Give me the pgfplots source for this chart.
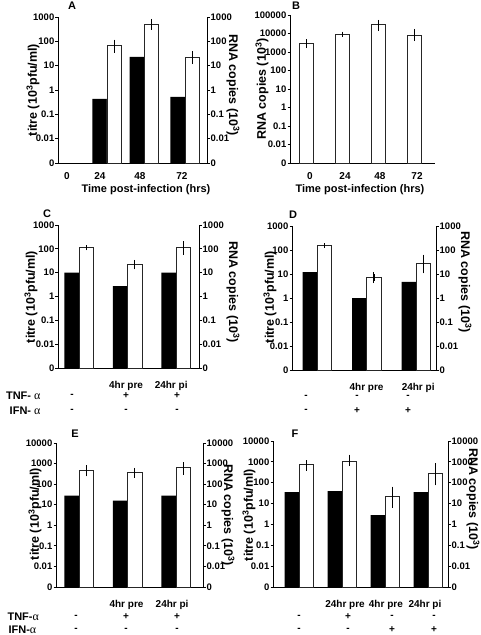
\documentclass[border=0pt]{standalone}
\usepackage{pgfplots}
\pgfplotsset{compat=1.18}
\usepackage{fontspec}
\setmainfont{Liberation Sans}
\newfontfamily\greekf{Liberation Serif}
\newcommand{\al}{{\greekf\mdseries\fontsize{12}{12}\selectfont α}}
\newcommand{\labf}{\bfseries\fontsize{11}{11}\selectfont}
\newcommand{\ylabf}{\bfseries\fontsize{12.5}{12.5}\selectfont}
\newcommand{\condf}{\bfseries\fontsize{10}{10}\selectfont}
\newcommand{\rowf}{\bfseries\fontsize{11}{11}\selectfont}
\newcommand{\letf}{\bfseries\fontsize{11}{11}\selectfont}
\pgfplotsset{
  scale only axis, clip=false,
  log origin y=infty,
  yminorticks=false,
  tick align=outside, major tick length=2.5pt,
  axis line style={line width=0.9pt},
  tick style={black, line width=0.8pt},
  tick label style={font=\bfseries\fontsize{9.5}{10}\selectfont},
  yticklabel style={inner sep=1pt},
  x tick label style={font=\condf, anchor=base, inner sep=0pt},
  xtick style={draw=none},
}
\begin{document}
\begin{tikzpicture}
\useasboundingbox (0,0) rectangle (480pt,-635pt);
% ---------------- Panel A
\begin{axis}[ymode=log, ymin=1e-3, ymax=1e3, ytick={1e-3,1e-2,1e-1,1,10,100,1000},
  yticklabels={0,0.01,0.1,1,10,100,1000},
  axis x line*=bottom, axis y line*=left,
  at={(58pt,-163pt)}, anchor=south west, width=149pt, height=146pt,
  xmin=-0.256, xmax=3.564, xtick={-0.026,0.82,1.846,2.923}, xticklabels={0,24,48,72},
  xticklabel shift=13.5pt]
\addplot[ybar, bar width=14.5pt, bar shift=0pt, fill=black, draw=none] coordinates {(0.814,0.43) (1.763,23) (2.814,0.52)};
\addplot[ybar, bar width=14.5pt, bar shift=0pt, fill=white, draw=black!85, line width=0.8pt,
  error bars/.cd, y dir=both, y explicit, error bar style={line width=1.3pt, black}, error mark options={line width=1pt, mark size=2pt, black}]
  coordinates {(1.186,66) += (0,31) -= (0,25) (2.135,500) += (0,190) -= (0,145) (3.186,22) += (0,10) -= (0,8)};
\end{axis}
\begin{axis}[ymode=log, ymin=1e-3, ymax=1e3, ytick={1e-3,1e-2,1e-1,1,10,100,1000},
  yticklabels={0,0.01,0.1,1,10,100,1000},
  axis y line*=right, axis x line=none,
  at={(58pt,-163pt)}, anchor=south west, width=149pt, height=146pt, xmin=0, xmax=1]
\end{axis}
\node[font=\letf] at (72pt,-6pt) {A};
\node[font=\ylabf, rotate=90] at (33pt,-90pt) {titre (10\textsuperscript{3}pfu/ml)};
\node[font=\ylabf, rotate=-90] at (233pt,-85pt) {RNA copies (10\textsuperscript{3})};
\node[font=\labf] at (146pt,-190pt) {Time post-infection (hrs)};
% ---------------- Panel B
\begin{axis}[ymode=log, ymin=1e-3, ymax=1e5, ytick={1e-3,1e-2,1e-1,1,10,100,1000,10000,100000},
  yticklabels={0,0.01,0.1,1,10,100,1000,10000,100000},
  axis x line*=bottom, axis y line*=left,
  at={(290pt,-163pt)}, anchor=south west, width=145pt, height=148pt,
  xmin=-0.458, xmax=3.569, xtick={0.097,1.07,2.04,3.07}, xticklabels={0,24,48,72},
  xticklabel shift=13.5pt]
\addplot[ybar, bar width=13.5pt, bar shift=0pt, fill=white, draw=black!85, line width=0.8pt,
  error bars/.cd, y dir=both, y explicit, error bar style={line width=1.3pt, black}, error mark options={line width=1pt, mark size=2pt, black}]
  coordinates {(0,3080) += (0,820) -= (0,980) (1,9400) += (0,600) -= (0,600) (2,32000) += (0,10000) -= (0,14500) (3,8300) += (0,5400) -= (0,3300)};
\end{axis}
\node[font=\letf] at (296pt,-6pt) {B};
\node[font=\ylabf, rotate=90] at (262pt,-89pt) {RNA copies (10\textsuperscript{3})};
\node[font=\labf] at (360pt,-190pt) {Time post-infection (hrs)};
% ---------------- Panel C
\begin{axis}[ymode=log, ymin=1e-3, ymax=1e3, ytick={1e-3,1e-2,1e-1,1,10,100,1000},
  yticklabels={0,0.01,0.1,1,10,100,1000},
  axis x line*=bottom, axis y line*=left,
  at={(58pt,-368pt)}, anchor=south west, width=141pt, height=143pt,
  xmin=-0.433, xmax=2.474, xtick={0.97,1.9}, xticklabels={4hr pre,24hr pi},
  xticklabel shift=17.5pt]
\addplot[ybar, bar width=14.5pt, bar shift=0pt, fill=black, draw=none] coordinates {(-0.15,10) (0.85,2.7) (1.85,10)};
\addplot[ybar, bar width=14.5pt, bar shift=0pt, fill=white, draw=black!85, line width=0.8pt,
  error bars/.cd, y dir=both, y explicit, error bar style={line width=1.3pt, black}, error mark options={line width=1pt, mark size=2pt, black}]
  coordinates {(0.15,110) += (0,5) -= (0,5) (1.15,22) += (0,6.5) -= (0,5.2) (2.15,110) += (0,58) -= (0,43)};
\end{axis}
\begin{axis}[ymode=log, ymin=1e-3, ymax=1e3, ytick={1e-3,1e-2,1e-1,1,10,100,1000},
  yticklabels={0,0.01,0.1,1,10,100,1000},
  axis y line*=right, axis x line=none,
  at={(58pt,-368pt)}, anchor=south west, width=141pt, height=143pt, xmin=0, xmax=1]
\end{axis}
\node[font=\letf] at (47pt,-214pt) {C};
\node[font=\ylabf, rotate=90] at (31pt,-297pt) {titre (10\textsuperscript{3}pfu/ml)};
\node[font=\ylabf, rotate=-90] at (233pt,-292pt) {RNA copies (10\textsuperscript{3})};
\node[font=\rowf, anchor=east] at (44pt,-396pt) {TNF- \al};
\node[font=\rowf, anchor=east] at (44pt,-411pt) {IFN- \al};
\node[font=\condf] at (72pt,-396pt) {-};
\node[font=\condf] at (126pt,-396pt) {+};
\node[font=\condf] at (177pt,-396pt) {+};
\node[font=\condf] at (72pt,-411pt) {-};
\node[font=\condf] at (126pt,-411pt) {-};
\node[font=\condf] at (177pt,-411pt) {-};
% ---------------- Panel D
\begin{axis}[ymode=log, ymin=1e-3, ymax=1e3, ytick={1e-3,1e-2,1e-1,1,10,100,1000},
  yticklabels={0,0.01,0.1,1,10,100,1000},
  axis x line*=bottom, axis y line*=left,
  at={(292pt,-370pt)}, anchor=south west, width=144pt, height=144pt,
  xmin=-0.505, xmax=2.40, xtick={1,2.04}, xticklabels={4hr pre,24hr pi},
  xticklabel shift=17.5pt]
\addplot[ybar, bar width=14.5pt, bar shift=0pt, fill=black, draw=none] coordinates {(-0.1465,12) (0.8535,1.0) (1.8535,4.7)};
\addplot[ybar, bar width=14.5pt, bar shift=0pt, fill=white, draw=black!85, line width=0.8pt,
  error bars/.cd, y dir=both, y explicit, error bar style={line width=1.3pt, black}, error mark options={line width=1pt, mark size=2pt, black}]
  coordinates {(0.1465,155) += (0,4) -= (0,4) (1.1465,7.2) += (0,2.8) -= (0,2.1) (2.1465,27) += (0,26) -= (0,14)};
\end{axis}
\begin{axis}[ymode=log, ymin=1e-3, ymax=1e3, ytick={1e-3,1e-2,1e-1,1,10,100,1000},
  yticklabels={0,0.01,0.1,1,10,100,1000},
  axis y line*=right, axis x line=none,
  at={(292pt,-370pt)}, anchor=south west, width=144pt, height=144pt, xmin=0, xmax=1]
\end{axis}
\node[font=\letf] at (293pt,-215pt) {D};
\node[font=\ylabf, rotate=90] at (270pt,-297pt) {titre (10\textsuperscript{3}pfu/ml)};
\node[font=\ylabf, rotate=-90] at (465pt,-282pt) {RNA copies (10\textsuperscript{3})};
\node[font=\condf] at (306pt,-397pt) {-};
\node[font=\condf] at (357pt,-397pt) {-};
\node[font=\condf] at (408pt,-397pt) {-};
\node[font=\condf] at (306pt,-411pt) {-};
\node[font=\condf] at (357pt,-411pt) {+};
\node[font=\condf] at (408pt,-411pt) {+};
% ---------------- Panel E
\begin{axis}[ymode=log, ymin=1e-3, ymax=1e4, ytick={1e-3,1e-2,1e-1,1,10,100,1000,10000},
  yticklabels={0,0.01,0.1,1,10,100,1000,10000},
  axis x line*=bottom, axis y line*=left,
  at={(56pt,-587pt)}, anchor=south west, width=147pt, height=144pt,
  xmin=-0.474, xmax=2.557, xtick={0.98,1.92}, xticklabels={4hr pre,24hr pi},
  xticklabel shift=18.4pt]
\addplot[ybar, bar width=14.5pt, bar shift=0pt, fill=black, draw=none] coordinates {(-0.15,28) (0.85,16) (1.85,28)};
\addplot[ybar, bar width=14.5pt, bar shift=0pt, fill=white, draw=black!85, line width=0.8pt,
  error bars/.cd, y dir=both, y explicit, error bar style={line width=1.3pt, black}, error mark options={line width=1pt, mark size=2pt, black}]
  coordinates {(0.15,465) += (0,205) -= (0,165) (1.15,365) += (0,135) -= (0,110) (2.15,617) += (0,300) -= (0,250)};
\end{axis}
\begin{axis}[ymode=log, ymin=1e-3, ymax=1e4, ytick={1e-3,1e-2,1e-1,1,10,100,1000,10000},
  yticklabels={0,0.01,0.1,1,10,100,1000,10000},
  axis y line*=right, axis x line=none,
  at={(56pt,-587pt)}, anchor=south west, width=147pt, height=144pt, xmin=0, xmax=1]
\end{axis}
\node[font=\letf] at (75pt,-434pt) {E};
\node[font=\ylabf, rotate=90] at (35pt,-514pt) {titre (10\textsuperscript{3}pfu/ml)};
\node[font=\ylabf, rotate=-90] at (228pt,-515pt) {RNA copies (10\textsuperscript{3})};
\node[font=\rowf, anchor=west] at (4pt,-617pt) {TNF-\al};
\node[font=\rowf, anchor=west] at (5pt,-630pt) {IFN-\al};
\node[font=\condf] at (76pt,-617pt) {-};
\node[font=\condf] at (126pt,-617pt) {+};
\node[font=\condf] at (177pt,-617pt) {+};
\node[font=\condf] at (76pt,-630pt) {-};
\node[font=\condf] at (126pt,-630pt) {-};
\node[font=\condf] at (177pt,-630pt) {-};
% ---------------- Panel F
\begin{axis}[ymode=log, ymin=1e-3, ymax=1e4, ytick={1e-3,1e-2,1e-1,1,10,100,1000,10000},
  yticklabels={0,0.01,0.1,1,10,100,1000,10000},
  axis x line*=bottom, axis y line*=left,
  at={(273pt,-587pt)}, anchor=south west, width=175pt, height=146pt,
  xmin=-0.605, xmax=3.465, xtick={1.07,2.02,2.93}, xticklabels={24hr pre,4hr pre,24hr pi},
  xticklabel shift=18.4pt]
\addplot[ybar, bar width=14.5pt, bar shift=0pt, fill=black, draw=none] coordinates {(-0.1686,35) (0.8314,40) (1.8314,2.8) (2.8314,35)};
\addplot[ybar, bar width=14.5pt, bar shift=0pt, fill=white, draw=black!85, line width=0.8pt,
  error bars/.cd, y dir=both, y explicit, error bar style={line width=1.3pt, black}, error mark options={line width=1pt, mark size=2pt, black}]
  coordinates {(0.1686,720) += (0,240) -= (0,240) (1.1686,1100) += (0,700) -= (0,320) (2.1686,22) += (0,30) -= (0,14) (3.1686,290) += (0,400) -= (0,198)};
\end{axis}
\begin{axis}[ymode=log, ymin=1e-3, ymax=1e4, ytick={1e-3,1e-2,1e-1,1,10,100,1000,10000},
  yticklabels={0,0.01,0.1,1,10,100,1000,10000},
  axis y line*=right, axis x line=none,
  at={(273pt,-587pt)}, anchor=south west, width=175pt, height=146pt, xmin=0, xmax=1]
\end{axis}
\node[font=\letf] at (295pt,-434pt) {F};
\node[font=\ylabf, rotate=90] at (249pt,-515pt) {titre (10\textsuperscript{3}pfu/ml)};
\node[font=\ylabf, rotate=-90] at (473pt,-499pt) {RNA copies (10\textsuperscript{3})};
\node[font=\condf] at (299pt,-617pt) {-};
\node[font=\condf] at (348pt,-617pt) {+};
\node[font=\condf] at (392pt,-617pt) {-};
\node[font=\condf] at (434pt,-617pt) {-};
\node[font=\condf] at (299pt,-630pt) {-};
\node[font=\condf] at (348pt,-630pt) {-};
\node[font=\condf] at (392pt,-630pt) {+};
\node[font=\condf] at (434pt,-630pt) {+};
\end{tikzpicture}
\end{document}
